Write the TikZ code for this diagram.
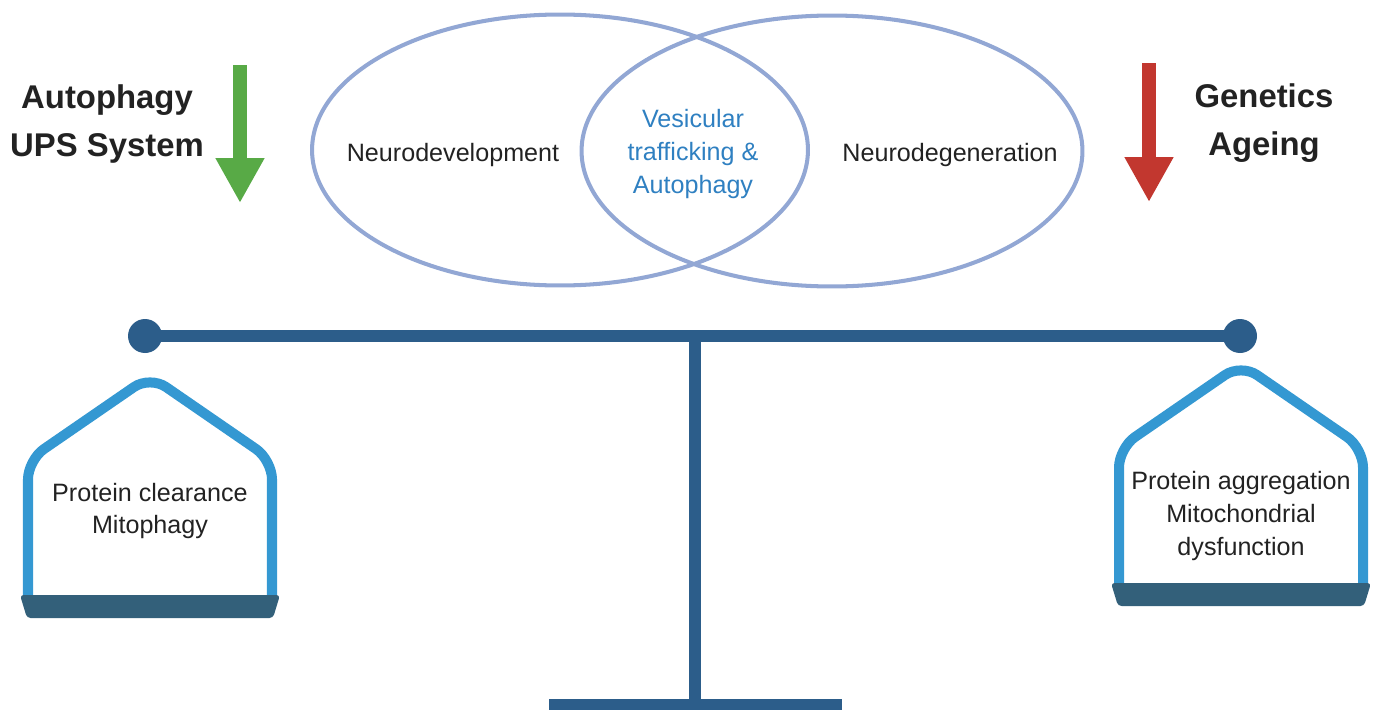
\documentclass[tikz,border=0pt]{standalone}
\usepackage{fontspec}
\setmainfont{Liberation Sans}
\usetikzlibrary{arrows.meta, shapes.geometric}
\definecolor{beamblue}{RGB}{44,93,138}
\definecolor{panblue}{RGB}{52,152,210}
\definecolor{traygrey}{RGB}{51,96,122}
\definecolor{ringblue}{RGB}{146,167,212}
\definecolor{vesblue}{RGB}{47,128,193}
\definecolor{upgreen}{RGB}{88,170,70}
\definecolor{downred}{RGB}{194,55,47}
\definecolor{txtdark}{RGB}{34,34,34}

\begin{document}
\begin{tikzpicture}[x=0.02cm, y=-0.02cm,
  txt/.style={align=center, text=txtdark, font=\fontsize{14.3}{18.7}\selectfont},
  bigtxt/.style={align=center, text=txtdark, font=\bfseries\fontsize{18.7}{27.2}\selectfont},
  ring/.style={ellipse, draw=ringblue, line width=2.3pt, minimum width=9.92cm, minimum height=5.42cm, inner sep=0},
  fatarrow/.style={line width=8.5pt, -{Triangle[length=25.5pt, width=26pt]}},
  beam/.style={draw=beamblue, line width=6.8pt},
  knob/.style={circle, fill=beamblue, minimum size=0.68cm, inner sep=0}]
\useasboundingbox (0,0) rectangle (1375,710);

% Overlapping fields
\node[ring] (devel) at (560,150) {};
\node[ring, minimum width=10.02cm] (degen) at (832,151) {};
\node[txt] (develtxt) at (453,155) {Neurodevelopment};
\node[txt] (degentxt) at (950,155) {Neurodegeneration};
\node[txt, text=vesblue] (shared) at (693,154) {Vesicular\\trafficking \&\\Autophagy};

% Driving factors
\node[bigtxt] (protect) at (107,124) {Autophagy\\UPS System};
\node[bigtxt] (risk) at (1264,123) {Genetics\\Ageing};
\coordinate (gtop) at (240,65);
\coordinate (gtip) at (240,203);
\coordinate (rtop) at (1149,63);
\coordinate (rtip) at (1149,202);
\draw[fatarrow, upgreen] (gtop) -- (gtip);
\draw[fatarrow, downred] (rtop) -- (rtip);

% Beam and stand
\node[knob] (lknob) at (145,336) {};
\node[knob] (rknob) at (1240,336) {};
\coordinate (pivot) at (695,337);
\coordinate (foot) at (695,700);
\draw[beam] (lknob.center) -- (rknob.center);
\draw[beam] (pivot) -- (foot);
\fill[beamblue] (549,699) rectangle (842,710);

% Pans
\foreach \cx/\dy in {150/0, 1241/-12} {
  \draw[panblue, line width=5.7pt, rounded corners=11pt]
    (\cx-122,598+\dy) -- (\cx-122,460+\dy) -- (\cx,376+\dy) -- (\cx+122,460+\dy) -- (\cx+122,598+\dy);
  \fill[traygrey, rounded corners=2pt]
    (\cx-130,595+\dy) -- (\cx+130,595+\dy) -- (\cx+123,618+\dy) -- (\cx-123,618+\dy) -- cycle;
}
\node[txt] (cleartxt) at (150,511) {Protein clearance\\Mitophagy};
\node[txt] (aggrtxt) at (1241,516) {Protein aggregation\\Mitochondrial\\dysfunction};
\end{tikzpicture}
\end{document}
